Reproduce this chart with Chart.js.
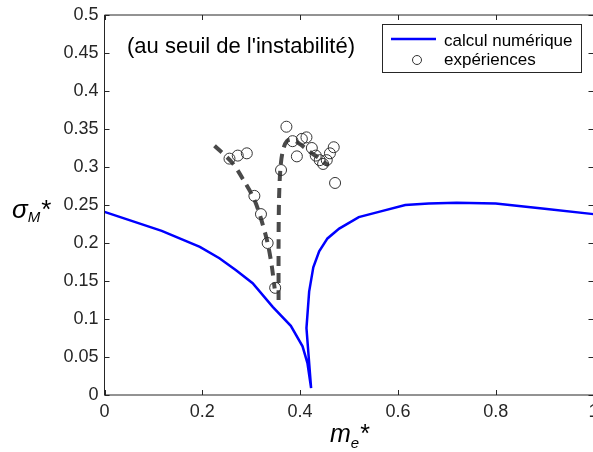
<!DOCTYPE html>
<html>
<head>
<meta charset="utf-8">
<script src="https://cdn.jsdelivr.net/npm/chart.js@4.4.1/dist/chart.umd.min.js"></script>
<style>
  html, body { margin: 0; padding: 0; background: #fff; overflow: hidden; }
  #wrap { width: 593px; height: 452px; overflow: hidden; }
  #myChart { display: block; }
</style>
</head>
<body>
<div id="wrap"><canvas id="myChart" width="600" height="452"></canvas></div>
<script>
// numerical result (blue curve)
const calcX = [0, 0.117, 0.195, 0.235, 0.269, 0.303, 0.344, 0.381, 0.405, 0.415, 0.4225,
  0.413, 0.4185, 0.427, 0.439, 0.456, 0.48, 0.52, 0.561, 0.615, 0.663, 0.72, 0.8, 0.9, 1.0];
const calcY = [0.241, 0.216, 0.195, 0.180, 0.164, 0.147, 0.116, 0.091, 0.064, 0.042, 0.009,
  0.088, 0.136, 0.168, 0.189, 0.206, 0.219, 0.234, 0.241, 0.250, 0.252, 0.253, 0.252, 0.245, 0.238];

// experiments (open circles)
const expX = [0.2556, 0.2725, 0.291, 0.3065, 0.320, 0.3336, 0.349, 0.361, 0.372, 0.3846, 0.4036,
  0.413, 0.3934, 0.424, 0.432, 0.440, 0.447, 0.4545, 0.461, 0.4688, 0.4715];
const expY = [0.311, 0.315, 0.318, 0.262, 0.238, 0.200, 0.141, 0.296, 0.353, 0.334, 0.337,
  0.339, 0.314, 0.325, 0.315, 0.309, 0.304, 0.309, 0.318, 0.326, 0.279];

// dashed guide lines
const guideAX = [0.225, 0.262, 0.286, 0.3065, 0.320, 0.3336, 0.342, 0.348];
const guideAY = [0.328, 0.305, 0.281, 0.257, 0.232, 0.200, 0.170, 0.140];
const guideBX = [0.356, 0.356, 0.357, 0.360, 0.365, 0.373, 0.385, 0.400, 0.420, 0.440, 0.458];
const guideBY = [0.125, 0.200, 0.260, 0.300, 0.322, 0.334, 0.336, 0.330, 0.320, 0.311, 0.302];

const xTicks = [0, 0.2, 0.4, 0.6, 0.8, 1];
const yTicks = [0, 0.05, 0.1, 0.15, 0.2, 0.25, 0.3, 0.35, 0.4, 0.45, 0.5];

const FONT = '"Liberation Sans", Arial, sans-serif';
const INK = '#262626';

const pts = (xs, ys) => xs.map((x, i) => ({ x: x, y: ys[i] }));

// box, inward ticks, legend, texts
const frame = {
  id: 'frame',
  afterDatasetsDraw(chart) {
    const ctx = chart.ctx;
    const a = chart.chartArea;
    const sx = chart.scales.x, sy = chart.scales.y;
    ctx.save();
    ctx.strokeStyle = INK;
    ctx.lineWidth = 1;
    ctx.beginPath();
    ctx.rect(a.left, a.top, a.right - a.left, a.bottom - a.top);
    yTicks.forEach(v => {
      const p = Math.round(sy.getPixelForValue(v)) + 0.5;
      ctx.moveTo(a.left, p); ctx.lineTo(a.left + 5, p);
      ctx.moveTo(a.right, p); ctx.lineTo(a.right - 5, p);
    });
    xTicks.forEach(v => {
      const p = Math.round(sx.getPixelForValue(v)) + 0.5;
      ctx.moveTo(p, a.bottom); ctx.lineTo(p, a.bottom - 5);
      ctx.moveTo(p, a.top); ctx.lineTo(p, a.top + 5);
    });
    ctx.stroke();

    // annotation
    ctx.fillStyle = '#000';
    ctx.font = '22px ' + FONT;
    ctx.textBaseline = 'alphabetic';
    ctx.fillText("(au seuil de l'instabilité)", a.left + 22.5, a.top + 38);

    // legend
    const lx = a.right - 211.5, ly = a.top + 9;
    ctx.fillStyle = '#fff';
    ctx.fillRect(lx, ly, 199, 48);
    ctx.strokeStyle = INK;
    ctx.strokeRect(lx + 0.5, ly + 0.5, 199, 48);
    ctx.strokeStyle = '#0000ff';
    ctx.lineWidth = 2.5;
    ctx.beginPath();
    ctx.moveTo(lx + 9, ly + 15); ctx.lineTo(lx + 54, ly + 15);
    ctx.stroke();
    ctx.strokeStyle = '#333';
    ctx.lineWidth = 1;
    ctx.beginPath();
    ctx.arc(lx + 35, ly + 36, 4.5, 0, Math.PI * 2);
    ctx.stroke();
    ctx.fillStyle = '#000';
    ctx.font = '17px ' + FONT;
    ctx.fillText('calcul numérique', lx + 62, ly + 22);
    ctx.fillText('expériences', lx + 62, ly + 41);

    // axis titles
    const title = (x, y, main, sub, big, small, drop) => {
      ctx.font = 'italic ' + big + 'px ' + FONT;
      ctx.fillText(main, x, y);
      x += ctx.measureText(main).width;
      ctx.font = 'italic ' + small + 'px ' + FONT;
      ctx.fillText(sub, x, y + drop);
      x += ctx.measureText(sub).width + 1;
      ctx.font = big + 'px ' + FONT;
      ctx.fillText('*', x, y);
    };
    title(12, sy.getPixelForValue(0.25) + 13, 'σ', 'M', 26, 15, 4);
    title(a.left + 225.5, a.bottom + 47, 'm', 'e', 25, 15, 6);
    ctx.restore();
  }
};

const ctx = document.getElementById('myChart').getContext('2d');

const chart = new Chart(ctx, {
  type: 'scatter',
  data: {
    datasets: [
      {
        label: 'expériences',
        data: pts(expX, expY),
        showLine: false,
        pointStyle: 'circle',
        pointRadius: 5.5,
        pointBorderWidth: 1,
        pointBorderColor: '#333',
        pointBackgroundColor: 'rgba(0,0,0,0)',
      },
      {
        label: 'calcul numérique',
        data: pts(calcX, calcY),
        showLine: true,
        borderColor: '#0000ff',
        borderWidth: 2.5,
        pointRadius: 0,
        tension: 0,
      },
      {
        label: 'guide A',
        data: pts(guideAX, guideAY),
        showLine: true,
        borderColor: '#4a4a4a',
        borderWidth: 4,
        borderDash: [10, 7],
        pointRadius: 0,
        tension: 0.3,
      },
      {
        label: 'guide B',
        data: pts(guideBX, guideBY),
        showLine: true,
        borderColor: '#4a4a4a',
        borderWidth: 4,
        borderDash: [10, 7],
        pointRadius: 0,
        tension: 0.3,
      },
    ],
  },
  options: {
    responsive: false,
    animation: false,
    devicePixelRatio: 1,
    // canvas is 600 wide, the right border of the axes box falls just past the visible 593
    layout: { padding: { top: 15, right: 4.5, left: 0, bottom: 0 } },
    plugins: { legend: { display: false }, tooltip: { enabled: false } },
    scales: {
      x: {
        type: 'linear',
        min: 0,
        max: 1,
        afterFit: s => { s.height = 57; s.paddingLeft = 0; s.paddingRight = 0; },
        afterBuildTicks: s => { s.ticks = xTicks.map(v => ({ value: v })); },
        grid: { display: false, drawTicks: false },
        border: { display: false },
        ticks: { color: INK, font: { family: FONT, size: 18 }, padding: 6, maxRotation: 0,
          callback: v => String(+v.toFixed(2)) },
      },
      y: {
        type: 'linear',
        min: 0,
        max: 0.5,
        afterFit: s => { s.width = 104.5; s.paddingTop = 0; s.paddingBottom = 0; },
        afterBuildTicks: s => { s.ticks = yTicks.map(v => ({ value: v })); },
        grid: { display: false, drawTicks: false },
        border: { display: false },
        ticks: { color: INK, font: { family: FONT, size: 18 }, padding: 6,
          callback: v => String(+v.toFixed(2)) },
      },
    },
  },
  plugins: [frame],
});
</script>
</body>
</html>
